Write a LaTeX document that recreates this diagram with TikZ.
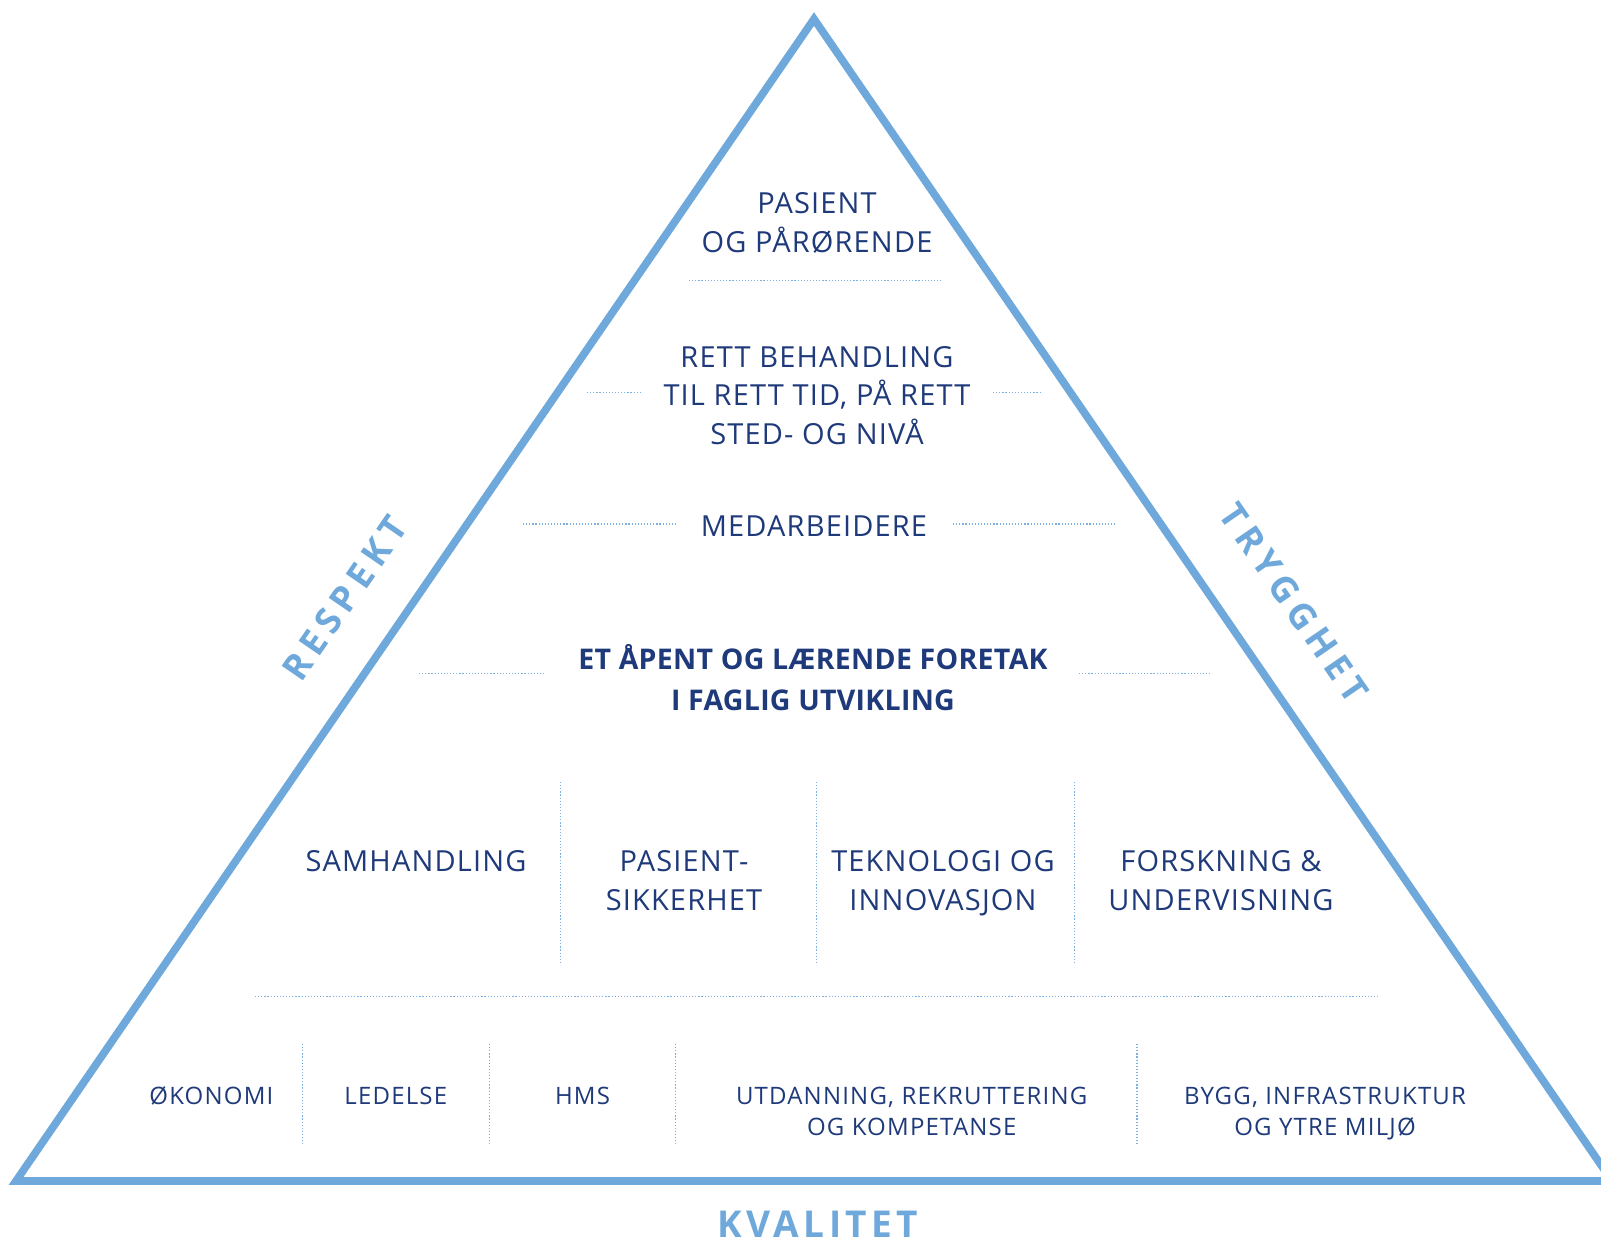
\documentclass[tikz,border=0pt]{standalone}
\usepackage{fontspec}
\setmainfont{Open Sans}[LetterSpace=4]
\newfontfamily\smallf{Open Sans}[LetterSpace=5]
\newfontfamily\titlef{Open Sans}[LetterSpace=1]
\newfontfamily\sidef{Open Sans}[LetterSpace=18]
\newfontfamily\kvalf{Open Sans}[LetterSpace=12]
\definecolor{navy}{RGB}{31,58,122}
\definecolor{tri}{RGB}{111,169,219}
\definecolor{dotc}{RGB}{125,175,225}
\tikzset{
  lbl/.style={text=navy, align=center, inner sep=0pt, anchor=base, font=\fontsize{29}{38.6}\selectfont},
  lblsmall/.style={text=navy, align=center, inner sep=0pt, anchor=base, font=\smallf\fontsize{24}{31}\selectfont},
  lbltitle/.style={text=navy, align=center, inner sep=0pt, anchor=base, font=\titlef\bfseries\fontsize{28.5}{40.7}\selectfont},
  sidelbl/.style={text=tri, inner sep=0pt, font=\sidef\bfseries\fontsize{36}{40}\selectfont},
  dotline/.style={draw=dotc, line width=1.2pt, dash pattern=on 1.2pt off 1.9pt},
  triline/.style={draw=tri, line width=7.7pt, line join=miter},
}
\begin{document}
\begin{tikzpicture}[x=1pt,y=-1pt]
\path[use as bounding box] (0,0) rectangle (1601,1242);
\clip (0,0) rectangle (1601,1242);
\fill[white] (0,0) rectangle (1601,1242);
% triangle
\coordinate (apex) at (814,19);
\coordinate (br) at (1612,1181);
\coordinate (bl) at (16,1181);
\draw[triline] (apex) -- (br) -- (bl) -- cycle;
% top levels (base anchor = baseline of last line)
\node[lbl] (pas) at (817,252.3) {PASIENT\\OG PÅRØRENDE};
\draw[dotline] (689,280.7) -- (943,280.7);
\node[lbl] (rett) at (817,444.3) {RETT BEHANDLING\\TIL RETT TID, PÅ RETT\\STED- OG NIVÅ};
\draw[dotline] (587,392.7) -- (640,392.7);
\draw[dotline] (993,392.7) -- (1042,392.7);
\node[lbl] (med) at (814,536) {MEDARBEIDERE};
\draw[dotline] (523,524) -- (675,524);
\draw[dotline] (953,524) -- (1116,524);
\node[lbltitle] (title) at (813,710) {ET ÅPENT OG LÆRENDE FORETAK\\I FAGLIG UTVIKLING};
\draw[dotline] (419,673.3) -- (544,673.3);
\draw[dotline] (1079,673.3) -- (1211,673.3);
% middle row
\draw[dotline] (560.6,782) -- (560.6,962);
\draw[dotline] (816.7,782) -- (816.7,962);
\draw[dotline] (1074.8,782) -- (1074.8,962);
\node[lbl] (sam) at (416,871.7) {SAMHANDLING};
\node[lbl] (sik) at (684,910) {PASIENT-\\SIKKERHET};
\node[lbl] (tek) at (943,910) {TEKNOLOGI OG\\INNOVASJON};
\node[lbl] (for) at (1221,910) {FORSKNING \&\\UNDERVISNING};
\draw[dotline] (255,996.7) -- (1378,996.7);
% bottom row
\draw[dotline] (302.7,1044) -- (302.7,1144);
\draw[dotline] (489.7,1044) -- (489.7,1144);
\draw[dotline] (675.3,1044) -- (675.3,1144);
\draw[dotline] (1137,1044) -- (1137,1144);
\node[lblsmall] (oko) at (211.4,1104) {ØKONOMI};
\node[lblsmall] (led) at (395.8,1104) {LEDELSE};
\node[lblsmall] (hms) at (582.5,1104) {HMS};
\node[lblsmall] (utd) at (911.7,1135) {UTDANNING, REKRUTTERING\\OG KOMPETANSE};
\node[lblsmall] (byg) at (1325,1135) {BYGG, INFRASTRUKTUR\\OG YTRE MILJØ};
% side labels
\node[sidelbl, rotate=55.5] (resp) at (345,598) {RESPEKT};
\node[sidelbl, rotate=-55.5] (tryg) at (1294,603) {TRYGGHET};
\node[text=tri, inner sep=0pt, anchor=base, font=\kvalf\bfseries\fontsize{37}{40}\selectfont] (kval) at (818,1237.5) {KVALITET};
\end{tikzpicture}
\end{document}
